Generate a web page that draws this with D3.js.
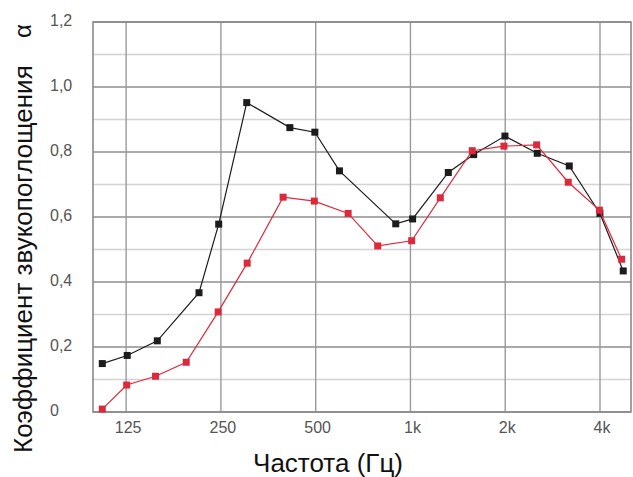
<!DOCTYPE html>
<html>
<head>
<meta charset="utf-8">
<script src="https://cdn.jsdelivr.net/npm/d3@7"></script>
<style>
  body { margin: 0; background: #fff; }
  svg { display: block; font-family: "Liberation Sans", Arial, sans-serif; }
</style>
</head>
<body>
<div id="chart"></div>
<script>
// frequencies (Hz), one set per curve
const blackFreq = [105, 126, 157, 213, 246, 302, 414, 497, 595, 898, 1016, 1319, 1588, 1996, 2528, 3195, 3998, 4741];
const blackAlpha = [0.149, 0.174, 0.219, 0.367, 0.578, 0.952, 0.875, 0.861, 0.742, 0.579, 0.594, 0.737, 0.792, 0.849, 0.796, 0.757, 0.611, 0.434];

const redFreq = [105, 125.5, 155, 194, 245, 303, 394, 495, 634, 787, 1009, 1244, 1571, 1981, 2517, 3171, 3983, 4685];
const redAlpha = [0.009, 0.083, 0.110, 0.153, 0.308, 0.458, 0.661, 0.649, 0.611, 0.511, 0.527, 0.659, 0.804, 0.818, 0.822, 0.707, 0.621, 0.470];

const xTicks = [125, 250, 500, 1000, 2000, 4000];
const xTickLabels = ['125', '250', '500', '1k', '2k', '4k'];
const yTicks = [0, 0.2, 0.4, 0.6, 0.8, 1.0, 1.2];
const yTickLabels = ['0', '0,2', '0,4', '0,6', '0,8', '1,0', '1,2'];
const yMinor = [0.1, 0.3, 0.5, 0.7, 0.9, 1.1];

const width = 633, height = 477;
const margin = { top: 22, right: 2, bottom: 65, left: 93 };
const innerW = width - margin.left - margin.right;
const innerH = height - margin.top - margin.bottom;

const svg = d3.select('#chart').append('svg')
  .attr('width', width)
  .attr('height', height);

const g = svg.append('g')
  .attr('transform', `translate(${margin.left},${margin.top})`);

const x = d3.scaleLog().domain([98.1, 5018]).range([0, innerW]);
const y = d3.scaleLinear().domain([0, 1.2]).range([innerH, 0]);

// minor horizontal grid
g.selectAll('.minor')
  .data(yMinor)
  .join('line')
  .attr('x1', 0).attr('x2', innerW)
  .attr('y1', d => y(d)).attr('y2', d => y(d))
  .attr('stroke', '#d4d4d4')
  .attr('stroke-width', 1.6);

// major horizontal grid
g.selectAll('.major')
  .data(yTicks)
  .join('line')
  .attr('x1', 0).attr('x2', innerW)
  .attr('y1', d => y(d)).attr('y2', d => y(d))
  .attr('stroke', '#8e8e8e')
  .attr('stroke-width', 1.4);

// vertical grid
g.selectAll('.vgrid')
  .data(xTicks)
  .join('line')
  .attr('x1', d => x(d)).attr('x2', d => x(d))
  .attr('y1', 0).attr('y2', innerH)
  .attr('stroke', '#9a9a9a')
  .attr('stroke-width', 1.4);

// frame
g.append('rect')
  .attr('width', innerW).attr('height', innerH)
  .attr('fill', 'none')
  .attr('stroke', '#8a8a8a')
  .attr('stroke-width', 1.6);

// tick labels
g.selectAll('.xlab')
  .data(xTicks)
  .join('text')
  .attr('x', d => x(d) + 2)
  .attr('y', innerH + 21)
  .attr('text-anchor', 'middle')
  .attr('font-size', 16)
  .attr('fill', '#555')
  .text((d, i) => xTickLabels[i]);

g.selectAll('.ylab')
  .data(yTicks)
  .join('text')
  .attr('x', 50 - margin.left)
  .attr('y', d => y(d) + 4)
  .attr('font-size', 16)
  .attr('fill', '#555')
  .text((d, i) => yTickLabels[i]);

// series
const series = [
  { freq: blackFreq, alpha: blackAlpha, color: '#1c1c1c' },
  { freq: redFreq, alpha: redAlpha, color: '#dc2a3c' }
];

const line = d3.line()
  .x(d => x(d[0]))
  .y(d => y(d[1]));

series.forEach(s => {
  const pts = s.freq.map((f, i) => [f, s.alpha[i]]);
  g.append('path')
    .datum(pts)
    .attr('fill', 'none')
    .attr('stroke', s.color)
    .attr('stroke-width', 1.2)
    .attr('d', line);
  g.selectAll(null)
    .data(pts)
    .join('rect')
    .attr('x', d => x(d[0]) - 3.5)
    .attr('y', d => y(d[1]) - 3.5)
    .attr('width', 7)
    .attr('height', 7)
    .attr('fill', s.color);
});

// axis titles
svg.append('text')
  .attr('x', 328)
  .attr('y', 472)
  .attr('text-anchor', 'middle')
  .attr('font-size', 26)
  .attr('fill', '#111')
  .text('Частота (Гц)');

svg.append('text')
  .attr('transform', 'rotate(-90)')
  .attr('x', -453)
  .attr('y', 32)
  .attr('font-size', 26)
  .attr('fill', '#111')
  .text('Коэффициент звукопоглощения');

svg.append('text')
  .attr('transform', 'rotate(-90)')
  .attr('x', -38)
  .attr('y', 31)
  .attr('font-size', 24)
  .attr('fill', '#111')
  .text('α');
</script>
</body>
</html>
